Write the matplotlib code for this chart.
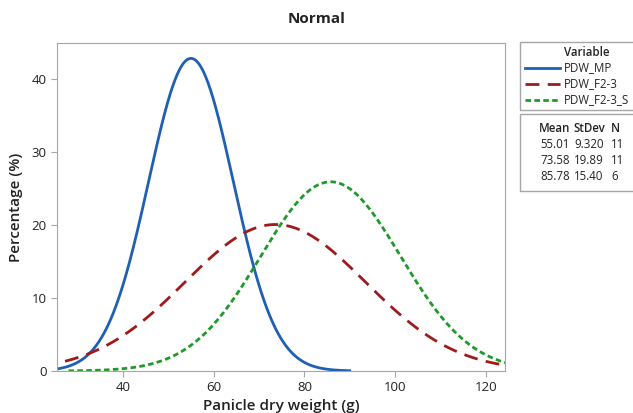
import numpy as np
import matplotlib
matplotlib.use("Agg")
import matplotlib.pyplot as plt
from matplotlib.patches import Rectangle
from matplotlib.lines import Line2D

plt.rcParams['font.family'] = ['Open Sans', 'DejaVu Sans']

# fitted normal parameters (from the table in the chart)
names = ['PDW_MP', 'PDW_F2-3', 'PDW_F2-3_S']
means = [55.01, 73.58, 85.78]
stdevs = [9.320, 19.89, 15.40]
counts = [11, 11, 6]
colors = ['#1f5fb4', '#9e1b1b', '#1f9a2a']
styles = ['-', (0, (5, 3)), (0, (2, 1.2))]

bin_width = 10  # percentage = density * bin width * 100

fig = plt.figure(figsize=(6.33, 4.13), dpi=100)
ax = fig.add_axes([0.090, 0.1017, 0.708, 0.794])

for m, s, c, ls in zip(means, stdevs, colors, styles):
    x = np.linspace(m - 3.75 * s, m + 3.75 * s, 400)
    y = np.exp(-0.5 * ((x - m) / s) ** 2) / (s * np.sqrt(2 * np.pi)) * bin_width * 100
    ax.plot(x, y, color=c, lw=2.0, linestyle=ls)

ax.set_xlim(25.5, 124.2)
ax.set_ylim(0, 44.9)
ax.set_xticks([40, 60, 80, 100, 120])
ax.set_yticks([0, 10, 20, 30, 40])
for sp in ax.spines.values():
    sp.set_color('#a6a6a6')
ax.tick_params(colors='#a6a6a6', labelcolor='#222222', labelsize=9.5, length=4)
ax.set_xlabel('Panicle dry weight (g)', fontsize=11, fontweight='semibold', color='#222222', labelpad=3)
ax.set_ylabel('Percentage (%)', fontsize=11, fontweight='semibold', color='#222222', labelpad=6)
fig.text(0.5, 0.955, 'Normal', ha='center', va='center', fontsize=11, fontweight='bold', color='#222222')

# legend boxes
W, H = 633, 413
def fx(px): return px / W
def fy(py): return 1 - py / H

fig.patches.append(Rectangle((fx(520), fy(110)), fx(120), fy(42) - fy(110), transform=fig.transFigure,
                             fill=False, edgecolor='#a6a6a6', lw=1))
fig.patches.append(Rectangle((fx(520), fy(191)), fx(120), fy(114) - fy(191), transform=fig.transFigure,
                             fill=False, edgecolor='#a6a6a6', lw=1))
fs = 8.3
fig.text(fx(587), fy(52), 'Variable', ha='center', va='center', fontsize=fs, fontweight='semibold', color='#222222')
for i, (n, c, ls) in enumerate(zip(names, colors, styles)):
    yy = fy(68 + i * 16)
    fig.lines.append(Line2D([fx(525), fx(560)], [yy, yy], transform=fig.transFigure, color=c, lw=2.0, linestyle=ls))
    fig.text(fx(564), yy, n, ha='left', va='center', fontsize=fs, color='#222222')

fig.text(fx(555), fy(128), 'Mean', ha='center', va='center', fontsize=fs, fontweight='semibold', color='#222222')
fig.text(fx(589), fy(128), 'StDev', ha='center', va='center', fontsize=fs, fontweight='semibold', color='#222222')
fig.text(fx(615), fy(128), 'N', ha='center', va='center', fontsize=fs, fontweight='semibold', color='#222222')
for i, (m, s, n) in enumerate(zip(means, stdevs, counts)):
    yy = fy(144 + i * 16)
    fig.text(fx(555), yy, f'{m:.2f}', ha='center', va='center', fontsize=fs, color='#222222')
    fig.text(fx(589), yy, f'{s:#.4g}', ha='center', va='center', fontsize=fs, color='#222222')
    fig.text(fx(611), yy, str(n), ha='left', va='center', fontsize=fs, color='#222222')

fig.savefig('out.png', dpi=100)
